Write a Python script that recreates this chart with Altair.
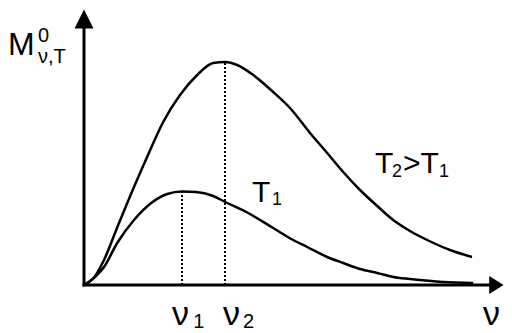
import altair as alt
import pandas as pd

# curve for T1 (lower curve)
nu_T1 = [0.00, 0.25, 0.50, 0.83, 1.25, 1.68, 2.08, 2.45, 2.80, 3.23, 3.53, 4.08, 4.73,
         5.23, 5.58, 6.08, 6.48, 6.90, 7.33, 7.73, 8.15, 8.98, 9.73]
M_T1 = [0.00, 0.28, 0.72, 1.68, 2.60, 3.28, 3.64, 3.74, 3.72, 3.56, 3.32, 2.90, 2.28,
        1.80, 1.52, 1.12, 0.88, 0.64, 0.48, 0.32, 0.24, 0.12, 0.08]

# curve for T2 > T1 (upper curve)
nu_T2 = [0.00, 0.25, 0.50, 0.83, 1.25, 1.60, 1.98, 2.40, 2.83, 3.23, 3.53, 3.83, 4.23,
         4.73, 5.15, 5.65, 6.08, 6.48, 6.90, 7.33, 7.73, 8.15, 8.58, 9.15, 9.70]
M_T2 = [0.00, 0.30, 1.00, 2.30, 3.92, 5.20, 6.52, 7.60, 8.40, 8.88, 8.92, 8.80, 8.40,
        7.72, 7.08, 6.08, 5.28, 4.52, 3.80, 3.16, 2.60, 2.16, 1.80, 1.40, 1.12]

# peak frequencies and peak heights
nu_peak = [2.45, 3.525]
M_peak = [3.74, 8.92]

# label texts
label_text = ["M", "0", "ν,T", "ν", "1", "ν", "2", "ν", "T", "1", "T", "2", ">T", "1"]
label_nu = [-1.90, -1.15, -1.15, 2.20, 2.73, 3.475, 3.975, 9.975, 4.20, 4.70,
            7.275, 7.70, 7.975, 8.875]
label_M = [9.20, 9.72, 8.88, -1.60, -1.72, -1.60, -1.72, -1.60, 3.32, 3.20,
           4.48, 4.32, 4.48, 4.32]
label_fs = [32, 20, 20, 34, 20, 34, 20, 34, 30, 18, 30, 18, 30, 18]

X_DOM = [-1.9, 10.5]
Y_DOM = [-1.92, 11.08]

xs = alt.Scale(domain=X_DOM, nice=False, zero=False)
ys = alt.Scale(domain=Y_DOM, nice=False, zero=False)

curves = pd.DataFrame({
    "nu": nu_T1 + nu_T2,
    "M": M_T1 + M_T2,
    "T": ["T1"] * len(nu_T1) + ["T2"] * len(nu_T2),
})
peaks = pd.DataFrame({"nu": nu_peak, "M": M_peak, "zero": [0.0, 0.0]})
axes_df = pd.DataFrame({"nu": [0.0, 0.0], "M": [0.0, 0.0],
                        "nu2": [10.15, 0.0], "M2": [0.0, 10.3]})
arrow_up = pd.DataFrame({"nu": [0.0], "M": [10.64]})
arrow_right = pd.DataFrame({"nu": [10.31], "M": [0.0]})
labels = pd.DataFrame({"t": label_text, "nu": label_nu, "M": label_M, "fs": label_fs})

axis_lines = alt.Chart(axes_df).mark_rule(color="black", strokeWidth=3, strokeCap="square").encode(
    x=alt.X("nu:Q", scale=xs, axis=None), y=alt.Y("M:Q", scale=ys, axis=None),
    x2="nu2:Q", y2="M2:Q")

lines = alt.Chart(curves).mark_line(color="black", strokeWidth=2.5, interpolate="monotone").encode(
    x=alt.X("nu:Q", scale=xs, axis=None), y=alt.Y("M:Q", scale=ys, axis=None),
    detail="T:N")

dotted = alt.Chart(peaks).mark_rule(color="black", strokeWidth=2, strokeDash=[2, 2]).encode(
    x=alt.X("nu:Q", scale=xs, axis=None), y=alt.Y("zero:Q", scale=ys, axis=None), y2="M:Q")

up = alt.Chart(arrow_up).mark_point(filled=True, opacity=1, color="black",
                                    shape="M-1,1L0,-1L1,1Z", size=361).encode(
    x=alt.X("nu:Q", scale=xs, axis=None), y=alt.Y("M:Q", scale=ys, axis=None))

right = alt.Chart(arrow_right).mark_point(filled=True, opacity=1, color="black",
                                          shape="M-0.8,-1L0.8,0L-0.8,1Z", size=324).encode(
    x=alt.X("nu:Q", scale=xs, axis=None), y=alt.Y("M:Q", scale=ys, axis=None))

texts = alt.Chart(labels).mark_text(align="left", baseline="alphabetic", color="black",
                                    font="Liberation Sans, Arial, sans-serif").encode(
    x=alt.X("nu:Q", scale=xs, axis=None), y=alt.Y("M:Q", scale=ys, axis=None),
    text="t:N", size=alt.Size("fs:Q", scale=None))

chart = alt.layer(axis_lines, lines, dotted, up, right, texts).properties(
    width=496, height=325, autosize=alt.AutoSizeParams(type="none"), padding=0,
    background="white"
).configure_view(stroke=None)

chart.save("out.html", embed_options={"renderer": "svg", "actions": False})
